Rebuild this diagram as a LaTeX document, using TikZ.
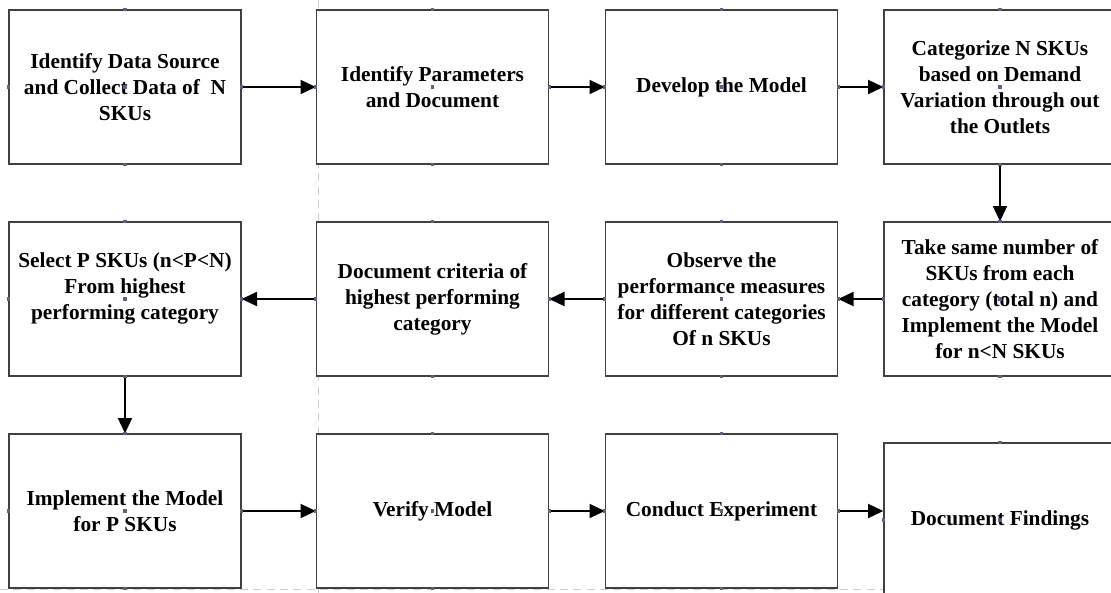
\documentclass[tikz,border=0pt]{standalone}
\usepackage{fontspec}
\setmainfont{Liberation Serif}
\usetikzlibrary{arrows.meta}
\definecolor{boxgray}{RGB}{64,64,64}
\definecolor{guidegray}{RGB}{205,205,205}
\definecolor{handlecol}{RGB}{96,96,128}
\begin{document}
\begin{tikzpicture}[x=0.75pt,y=-0.75pt,
  box/.style={draw=boxgray, fill=white, line width=1pt, minimum width=174pt, minimum height=115.5pt,
    inner sep=0pt, align=center, text=black,
    font=\fontsize{16}{19.5}\selectfont\bfseries},
  flow/.style={draw=black, line width=1.5pt, -{Triangle[length=11.5pt,width=10.5pt]}},
  guide/.style={draw=guidegray, line width=0.75pt, dash pattern=on 6pt off 4pt}]

\useasboundingbox (0,0) rectangle (1111,593);
\clip (0,0) rectangle (1111,593);

% page guides of the drawing canvas
\draw[guide] (318,0) -- (318,593);
\draw[guide] (0,589) -- (884,589);

% row 1
\node[box] (b1) at (125,87) {Identify Data Source\\and Collect Data of\ \ N\\SKUs};
\node[box] (b2) at (432.5,87) {Identify Parameters\\and Document};
\node[box] (b3) at (721.5,87) {Develop the Model};
\node[box] (b4) at (1000,87) {Categorize N SKUs\\based on Demand\\Variation through out\\the Outlets};

% row 2
\node[box] (c1) at (125,299) {Select P SKUs (n<P<N)\\From highest\\performing category\\~};
\node[box] (c2) at (432.5,299) {Document criteria of\\highest performing\\category};
\node[box] (c3) at (721.5,299) {Observe the\\performance measures\\for different categories\\Of n SKUs};
\node[box] (c4) at (1000,299) {Take same number of\\SKUs from each\\category (total n) and\\Implement the Model\\for n<N SKUs};

% row 3
\node[box] (d1) at (125,511) {Implement the Model\\for P SKUs};
\node[box] (d2) at (432.5,511) {Verify Model};
\node[box] (d3) at (721.5,511) {Conduct Experiment};
\node[box] (d4) at (1000,520) {Document Findings};

% connectors
\draw[flow] (b1.east) -- (b2.west);
\draw[flow] (b2.east) -- (b3.west);
\draw[flow] (b3.east) -- (b4.west);
\draw[flow] (b4.south) -- (c4.north);
\draw[flow] (c4.west) -- (c3.east);
\draw[flow] (c3.west) -- (c2.east);
\draw[flow] (c2.west) -- (c1.east);
\draw[flow] (c1.south) -- (d1.north);
\draw[flow] (d1.east) -- (d2.west);
\draw[flow] (d2.east) -- (d3.west);
\draw[flow] (d3.east) -- (d3.east -| d4.west);

% selection handles
\foreach \n in {b1,b2,b3,b4,c1,c2,c3,c4,d1,d2,d3,d4}
  \foreach \a in {north,south,east,west,center}
    \fill[handlecol] (\n.\a) +(-1.6,-1.6) rectangle +(1.6,1.6);
\end{tikzpicture}
\end{document}
